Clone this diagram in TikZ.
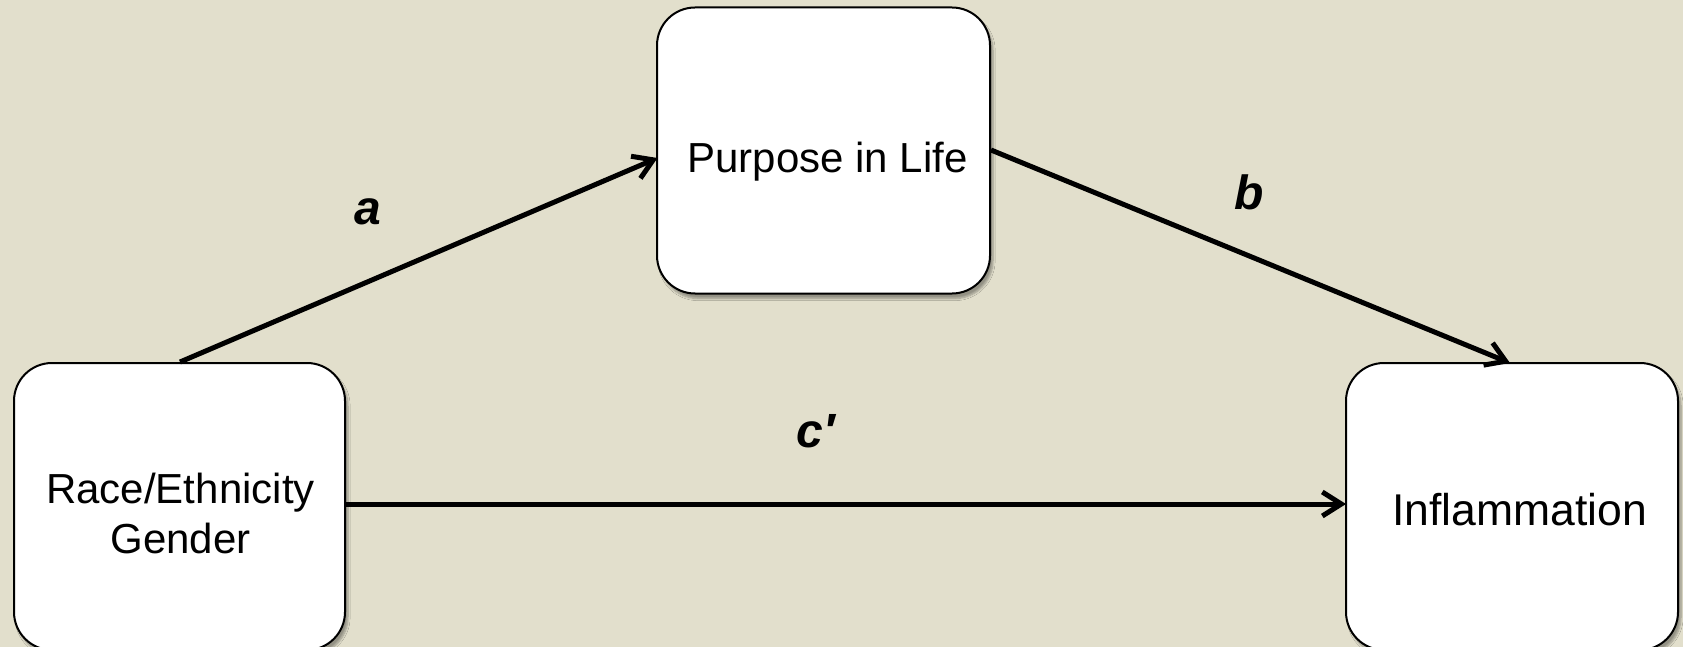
\documentclass[tikz,border=0pt]{standalone}
\usepackage{fontspec}
\setmainfont{Liberation Sans}
\usetikzlibrary{arrows.meta,shadows.blur}
\definecolor{bgbeige}{RGB}{226,223,204}
\tikzset{
  varbox/.style={draw=black, line width=2pt, fill=white, rounded corners=38pt,
    inner sep=0pt, blur shadow={shadow xshift=3pt, shadow yshift=-5pt, shadow blur steps=6, shadow opacity=35}},
  boxtext/.style={anchor=base, align=center, inner sep=0pt, font=\fontsize{42}{50}\selectfont},
  pathlabel/.style={anchor=base, inner sep=0pt, font=\fontsize{48}{56}\selectfont\bfseries\itshape},
  patharrow/.style={line width=5pt, -{Straight Barb[length=19pt,width=24pt,line width=5pt]}},
}
\begin{document}
\begin{tikzpicture}[x=1pt,y=-1pt]
\fill[bgbeige] (0,0) rectangle (1683,647);
\useasboundingbox (0,0) rectangle (1683,647);

\node[varbox, minimum width=333pt, minimum height=286pt] (purpose) at (823.5,150.5) {};
\node[varbox, minimum width=331pt, minimum height=287pt] (race) at (179.5,506.5) {};
\node[varbox, minimum width=332pt, minimum height=287pt] (infl) at (1512,506.5) {};

\node[boxtext] (tpurpose) at (827.5,172.7) {Purpose in Life};
\node[boxtext] (trace) at (180.5,553) {Race/Ethnicity\\Gender};
\node[boxtext, font=\fontsize{44.5}{52}\selectfont] (tinfl) at (1519.5,525) {Inflammation};

\coordinate (aS) at (180,362);
\coordinate (aE) at (657.5,158);
\coordinate (bS) at (991,150);
\coordinate (bE) at (1510,363);
\coordinate (cS) at (345.5,504);
\coordinate (cE) at (1346,504);

\draw[patharrow] (aS) -- (aE);
\draw[patharrow] (bS) -- (bE);
\draw[patharrow] (cS) -- (cE);

\node[pathlabel] (la) at (368,225) {a};
\node[pathlabel] (lb) at (1249,209) {b};
\node[pathlabel] (lc) at (816,447) {c′};
\end{tikzpicture}
\end{document}
